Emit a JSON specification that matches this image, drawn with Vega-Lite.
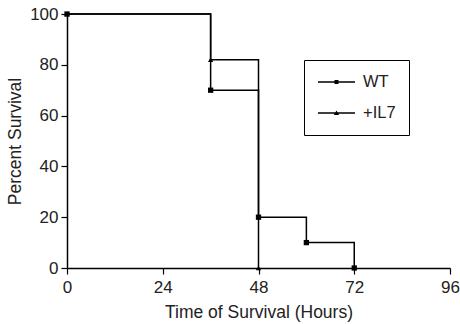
{
  "$schema": "https://vega.github.io/schema/vega-lite/v6.json",
  "autosize": "none",
  "width": 383,
  "height": 254,
  "padding": {"left": 67, "top": 14, "right": 10, "bottom": 56},
  "background": "white",
  "config": {
    "view": {"stroke": null},
    "font": "Liberation Sans",
    "axis": {
      "grid": false,
      "domainColor": "black",
      "domainWidth": 1.5,
      "tickColor": "black",
      "tickWidth": 1.2,
      "tickSize": 6,
      "labelColor": "#222",
      "titleColor": "#222",
      "labelFontSize": 17,
      "titleFontSize": 17.5,
      "titleFontWeight": "normal",
      "labelFont": "Liberation Sans",
      "titleFont": "Liberation Sans"
    }
  },
  "data": {
    "values": [
      {"group": "WT", "time": 0, "survival": 100},
      {"group": "WT", "time": 36, "survival": 70},
      {"group": "WT", "time": 48, "survival": 20},
      {"group": "WT", "time": 60, "survival": 10},
      {"group": "WT", "time": 72, "survival": 0},
      {"group": "+IL7", "time": 0, "survival": 100},
      {"group": "+IL7", "time": 36, "survival": 82},
      {"group": "+IL7", "time": 48, "survival": 0}
    ]
  },
  "encoding": {
    "x": {
      "field": "time",
      "type": "quantitative",
      "scale": {"domain": [0, 96], "nice": false},
      "axis": {"values": [0, 24, 48, 72, 96], "title": "Time of Survival (Hours)", "labelPadding": 5, "titlePadding": 8, "labelFlush": false}
    },
    "y": {
      "field": "survival",
      "type": "quantitative",
      "scale": {"domain": [0, 100], "nice": false},
      "axis": {"values": [0, 20, 40, 60, 80, 100], "title": "Percent Survival", "labelPadding": 3, "titlePadding": 5}
    }
  },
  "resolve": {"scale": {"shape": "independent"}, "legend": {"shape": "independent"}},
  "layer": [
    {
      "mark": {"type": "line", "interpolate": "step-after", "color": "black", "strokeWidth": 1.5},
      "encoding": {"detail": {"field": "group"}}
    },
    {
      "mark": {"type": "point", "filled": true, "color": "black", "opacity": 1},
      "encoding": {
        "shape": {
          "field": "group",
          "type": "nominal",
          "scale": {"domain": ["WT", "+IL7"], "range": ["square", "triangle-up"]},
          "legend": null
        },
        "size": {"value": 28}
      }
    },
    {
      "transform": [{"filter": "datum.time < 0"}],
      "mark": {"type": "point", "filled": true, "color": "black", "opacity": 1},
      "encoding": {
        "shape": {
          "field": "group",
          "type": "nominal",
          "scale": {"domain": ["WT", "+IL7"], "range": ["M-1,-0.09H3.625V0.09H-1ZM1.06,-0.26H1.56V0.26H1.06Z", "M-1,-0.09H3.625V0.09H-1ZM1.31,-0.32L1.64,0.24H0.98Z"]},
          "legend": {
            "title": null,
            "orient": "none",
            "legendX": 237,
            "legendY": 46,
            "strokeColor": "black",
            "padding": 13,
            "symbolSize": 256,
            "symbolFillColor": "black",
            "labelOffset": 28,
            "labelFontSize": 16.5,
            "labelColor": "#222",
            "labelFont": "Liberation Sans",
            "rowPadding": 13
          }
        }
      }
    }
  ]
}
